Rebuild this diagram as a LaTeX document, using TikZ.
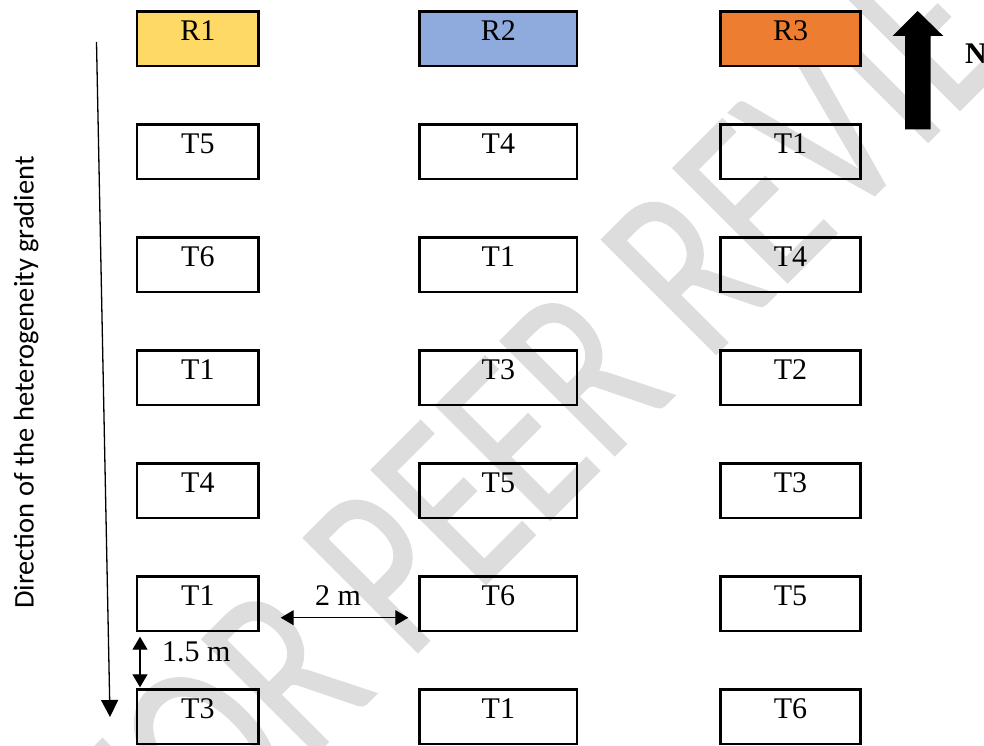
\documentclass[tikz,border=0pt]{standalone}
\usepackage{fontspec}
\setmainfont{Liberation Serif}
\newfontfamily\calibrifont{Carlito}
\newfontfamily\wmfont[FakeBold=0.7]{Carlito}
\usetikzlibrary{arrows.meta}
\definecolor{rone}{HTML}{FFD966}
\definecolor{rtwo}{HTML}{8FAADC}
\definecolor{rthree}{HTML}{ED7D31}
\definecolor{wmgray}{HTML}{DDDDDD}
\begin{document}
\begin{tikzpicture}[x=1pt,y=-1pt,
  plotbox/.style={draw=black, line width=2.6pt, minimum height=54.5pt, inner sep=0pt,
    text height=21pt, text depth=17.5pt,
    font=\fontsize{30}{36}\selectfont},
  colA/.style={plotbox, minimum width=121.7pt},
  colB/.style={plotbox, minimum width=157.3pt},
  colC/.style={plotbox, minimum width=139.8pt},
  dimarrow/.style={line width=1.3pt, {Triangle[length=13pt,width=15pt]}-{Triangle[length=13pt,width=15pt]}},
  dimlabel/.style={inner sep=0pt, anchor=base west, font=\fontsize{30}{36}\selectfont},
]
\useasboundingbox (0,0) rectangle (984,746);
\clip (0,0) rectangle (984,746);
\fill[white] (0,0) rectangle (984,746);

% watermark
\node[rotate=45, anchor=base west, text=wmgray, inner sep=0pt, font=\wmfont\fontsize{252}{260}\selectfont] (wm) at (160,910) {\scalebox{0.74}[1]{FOR PEER REVIEW}};

% column 1
\node[colA, fill=rone] (a0) at (197.85,38.65) {R1};
\node[colA] (a1) at (197.85,151.65) {T5};
\node[colA] (a2) at (197.85,264.65) {T6};
\node[colA] (a3) at (197.85,377.65) {T1};
\node[colA] (a4) at (197.85,490.65) {T4};
\node[colA] (a5) at (197.85,603.65) {T1};
\node[colA] (a6) at (197.85,716.65) {T3};
% column 2
\node[colB, fill=rtwo] (b0) at (498.35,38.65) {R2};
\node[colB] (b1) at (498.35,151.65) {T4};
\node[colB] (b2) at (498.35,264.65) {T1};
\node[colB] (b3) at (498.35,377.65) {T3};
\node[colB] (b4) at (498.35,490.65) {T5};
\node[colB] (b5) at (498.35,603.65) {T6};
\node[colB] (b6) at (498.35,716.65) {T1};
% column 3
\node[colC, fill=rthree] (c0) at (790.5,38.65) {R3};
\node[colC] (c1) at (790.5,151.65) {T1};
\node[colC] (c2) at (790.5,264.65) {T4};
\node[colC] (c3) at (790.5,377.65) {T2};
\node[colC] (c4) at (790.5,490.65) {T3};
\node[colC] (c5) at (790.5,603.65) {T5};
\node[colC] (c6) at (790.5,716.65) {T6};

% gradient arrow and label
\coordinate (gtop) at (96.5,42);
\coordinate (gbot) at (110,717);
\draw[line width=1.3pt, -{Triangle[length=17pt,width=17pt]}] (gtop) -- (gbot);
\node[rotate=90, anchor=base, inner sep=0pt, font=\calibrifont\fontsize{28.5}{34}\selectfont] (glabel) at (33.5,382.5) {Direction of the heterogeneity gradient};

% dimension arrows
\coordinate (hl) at (280.7,617.7);
\coordinate (hr) at (408.3,617.7);
\draw[dimarrow] (hl) -- (hr);
\node[dimlabel] (hlab) at (315,605) {2 m};
\coordinate (vt) at (140,636.7);
\coordinate (vb) at (140,687.3);
\draw[dimarrow] (vt) -- (vb);
\node[dimlabel] (vlab) at (162,661.7) {1.5 m};

% north arrow
\fill[black] (905,129.3) -- (905,36) -- (892.7,36) -- (917.7,11) -- (943.3,36) -- (930.7,36) -- (930.7,129.3) -- cycle;
\node[inner sep=0pt, anchor=base west, font=\bfseries\fontsize{30}{36}\selectfont] (nlab) at (965,63.3) {N};
\end{tikzpicture}
\end{document}
